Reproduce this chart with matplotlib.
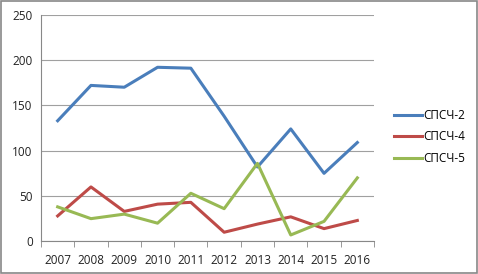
import numpy as np
import matplotlib
matplotlib.use("Agg")
import matplotlib.pyplot as plt
from matplotlib.patches import Rectangle

years = ["2007", "2008", "2009", "2010", "2011", "2012", "2013", "2014", "2015", "2016"]
spsch2 = [133, 172, 170, 192, 191, 138, 82, 124, 75, 109]
spsch4 = [28, 60, 33, 41, 43, 10, 19, 27, 14, 23]
spsch5 = [38, 25, 30, 20, 53, 36, 86, 7, 22, 70]
names = ["СПСЧ-2", "СПСЧ-4", "СПСЧ-5"]
colors = ["#4A7EBB", "#BE4B48", "#98B954"]

plt.rcParams['font.family'] = ['Open Sans', 'DejaVu Sans']

fig = plt.figure(figsize=(4.78, 2.74), dpi=100)
ax = fig.add_axes([0.0858, 0.1193, 0.6966, 0.827])

x = np.arange(len(years))
for vals, name, c in zip([spsch2, spsch4, spsch5], names, colors):
    ax.plot(x, vals, color=c, lw=2.2, label=name, solid_joinstyle='round')

ax.set_xlim(-0.5, len(years) - 0.5)
ax.set_ylim(0, 250)
ax.set_yticks([0, 50, 100, 150, 200, 250])
ax.set_xticks(x)
ax.set_xticklabels(years)
ax.set_xticks(np.arange(-0.5, len(years)), minor=True)
ax.tick_params(axis='x', which='major', length=0, pad=9, labelsize=8.5, colors='#222222')
ax.tick_params(axis='x', which='minor', length=4, color='#888888', direction='out')
ax.tick_params(axis='y', length=0, pad=6, labelsize=8.5, colors='#222222')
ax.grid(axis='y', color='#A0A0A0', lw=0.8)
ax.set_axisbelow(True)
for s in ['top', 'right']:
    ax.spines[s].set_visible(False)
ax.spines['left'].set_color('#888888')
ax.spines['bottom'].set_color('#888888')

leg = ax.legend(loc='center left', bbox_to_anchor=(0.802, 0.5), bbox_transform=fig.transFigure,
                frameon=False, fontsize=8.5, handlelength=2.4, handletextpad=0.1, labelspacing=0.75)

fig.patches.append(Rectangle((0.002, 0.003), 0.996, 0.994, transform=fig.transFigure,
                             fill=False, edgecolor='#888888', lw=1.2))

fig.savefig("out.png", dpi=100)
